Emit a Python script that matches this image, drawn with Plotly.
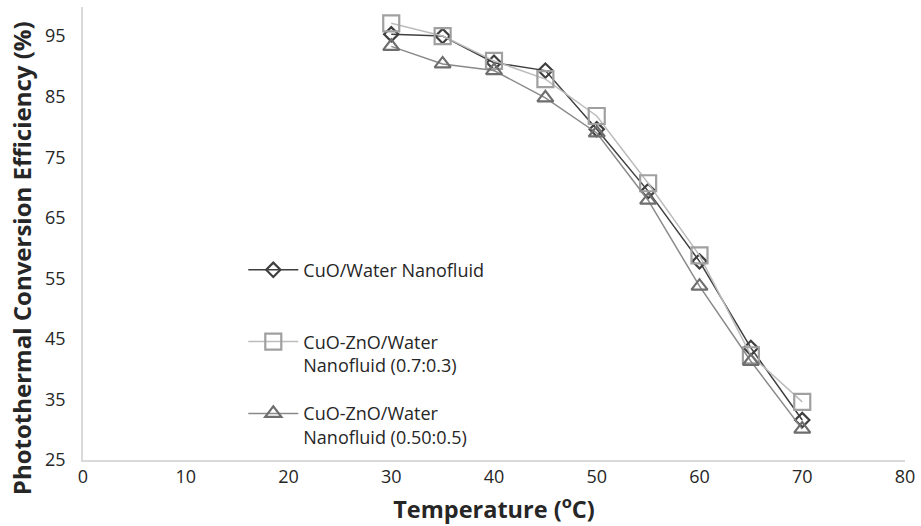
import plotly.graph_objects as go

# Temperature (°C) and photothermal conversion efficiency (%) for each fluid
temperature = [30, 35, 40, 45, 50, 55, 60, 65, 70]
cuo_water = [95.3, 95.0, 90.6, 89.3, 79.6, 69.4, 57.8, 43.5, 31.6]
cuo_zno_07_03 = [97.1, 95.0, 90.9, 87.9, 81.8, 70.7, 58.8, 42.3, 34.6]
cuo_zno_05_05 = [93.3, 90.4, 89.3, 84.8, 79.0, 67.9, 53.7, 41.3, 30.1]

# every legend entry takes two text lines so the entries sit evenly apart
names = [
    "CuO/Water Nanofluid<br>\u00a0",
    "CuO-ZnO/Water<br>Nanofluid (0.7:0.3)",
    "CuO-ZnO/Water<br>Nanofluid (0.50:0.5)",
]
x_ticks = list(range(0, 81, 10))
y_ticks = list(range(25, 96, 10))

fig = go.Figure()

styles = [
    dict(values=cuo_water, line="#3f3f3f", edge="#3f3f3f", symbol="diamond-open", size=11),
    dict(values=cuo_zno_07_03, line="#bcbcbc", edge="#a0a0a0", symbol="square-open", size=16),
    dict(values=cuo_zno_05_05, line="#8a8a8a", edge="#6e6e6e", symbol="triangle-up-open", size=14),
]

for i, (name, st) in enumerate(zip(names, styles)):
    fig.add_trace(go.Scatter(
        x=temperature,
        y=st["values"],
        name=name,
        legendgroup=f"g{i}",
        mode="lines+markers",
        line=dict(color=st["line"], width=1.5),
        marker=dict(symbol=st["symbol"], size=st["size"],
                    color=st["edge"], line=dict(color=st["edge"], width=2.2)),
    ))

font_family = "Open Sans, Noto Sans, DejaVu Sans, sans-serif"
text_color = "#262626"

# vertical axis title, placed a little below the middle of the plot area
fig.add_annotation(
    text="<b>Photothermal Conversion Efficiency (%)</b>",
    xref="paper", yref="paper",
    x=-0.074, y=0.446,
    xanchor="center", yanchor="middle",
    textangle=-90,
    showarrow=False,
    font=dict(size=24, color=text_color, family=font_family),
)

fig.update_layout(
    width=921,
    height=526,
    autosize=False,
    margin=dict(l=83, r=16, t=7, b=66),
    paper_bgcolor="white",
    plot_bgcolor="white",
    font=dict(family=font_family, color=text_color, size=18),
    legend=dict(
        x=0.195, y=0.46, xanchor="left", yanchor="top",
        bgcolor="rgba(0,0,0,0)",
        font=dict(size=18, color=text_color),
        valign="top",
        traceorder="grouped",
        tracegroupgap=22,
        itemwidth=50,
    ),
    xaxis=dict(
        range=[0, 80],
        tickvals=x_ticks,
        showgrid=False,
        zeroline=False,
        showline=True,
        linecolor="#d9d9d9",
        linewidth=1.5,
        ticks="",
        tickfont=dict(size=18, color=text_color),
        title=dict(text="<b>Temperature (<sup>o</sup>C)</b>",
                   font=dict(size=23.5, color=text_color), standoff=14),
    ),
    yaxis=dict(
        range=[25, 99.8],
        tickvals=y_ticks,
        showgrid=False,
        zeroline=False,
        showline=True,
        linecolor="#d9d9d9",
        linewidth=1.5,
        ticks="",
        ticklabelstandoff=12,
        tickfont=dict(size=18, color=text_color),
    ),
)

fig.write_html("out.html")
